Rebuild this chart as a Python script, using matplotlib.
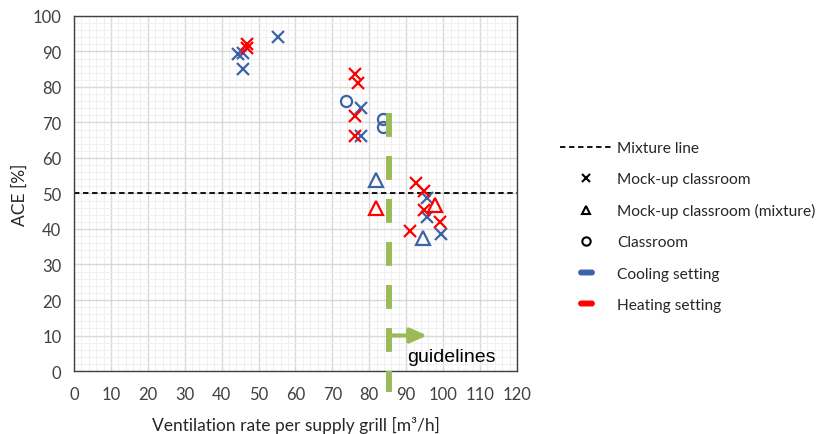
import numpy as np
import matplotlib
matplotlib.use("Agg")
import matplotlib.pyplot as plt
from matplotlib.lines import Line2D
from matplotlib.path import Path
from matplotlib.ticker import MultipleLocator

# data (ventilation rate [m3/h], ACE [%])
cool_mock_x = [44.4, 45.7, 45.9, 55.2, 77.8, 77.8, 95.6, 95.6, 99.4]
cool_mock_y = [89.3, 89.5, 85.1, 94.2, 74.0, 66.3, 48.6, 43.3, 38.6]
heat_mock_x = [46.8, 47.0, 76.2, 76.8, 76.2, 76.2, 92.7, 94.9, 94.7, 99.2, 91.1]
heat_mock_y = [92.1, 91.0, 83.7, 81.1, 71.9, 66.3, 52.9, 50.6, 45.4, 41.9, 39.5]
cool_mix_x = [81.8, 94.5]
cool_mix_y = [53.9, 37.5]
heat_mix_x = [81.8, 97.8]
heat_mix_y = [45.8, 46.8]
cool_class_x = [73.7, 83.7, 83.7]
cool_class_y = [76.1, 71.0, 68.6]

mixture_line = 50
guideline_x = 85.4
guideline_y = [72.7, -6]
arrow_end = 95.7
arrow_y = 10

col_cool = '#3C63A8'
col_heat = '#FF0000'
col_green = '#9BBB59'
font = ['Lato', 'DejaVu Sans']
plt.rcParams['font.family'] = font

fig = plt.figure(figsize=(8.32, 4.35), dpi=100)
ax = fig.add_axes([0.0889, 0.1448, 0.5325, 0.8162])

ax.set_xlim(0, 120)
ax.set_ylim(0, 100)
ax.xaxis.set_major_locator(MultipleLocator(10))
ax.yaxis.set_major_locator(MultipleLocator(10))
ax.xaxis.set_minor_locator(MultipleLocator(2))
ax.yaxis.set_minor_locator(MultipleLocator(2))
ax.grid(which='major', color='#D9D9D9', lw=1.0, zorder=0)
ax.grid(which='minor', color='#EEEEEE', lw=0.6, zorder=0)
ax.set_axisbelow(True)
ax.tick_params(which='both', length=0, labelsize=12, colors='#404040')
ax.tick_params(axis='x', pad=11)
ax.tick_params(axis='y', pad=9)
for s in ax.spines.values():
    s.set_color('#404040')
    s.set_linewidth(1.0)

ax.axhline(mixture_line, color='black', ls=(0, (3, 2)), lw=1.3, zorder=2)

ms = 8
ax.plot(cool_mock_x, cool_mock_y, 'x', color=col_cool, ms=ms, mew=1.6, zorder=3)
ax.plot(heat_mock_x, heat_mock_y, 'x', color=col_heat, ms=ms, mew=1.6, zorder=3)
ax.plot(cool_mix_x, cool_mix_y, '^', mfc='none', mec=col_cool, ms=10, mew=1.6, zorder=3)
ax.plot(heat_mix_x, heat_mix_y, '^', mfc='none', mec=col_heat, ms=10, mew=1.6, zorder=3)
ax.plot(cool_class_x, cool_class_y, 'o', mfc='none', mec=col_cool, ms=8, mew=1.6, zorder=3)

# guideline
ax.plot([guideline_x, guideline_x], guideline_y, color=col_green, lw=4.3,
        ls=(0, (4.0, 3.2)), solid_capstyle='butt', dash_capstyle='butt',
        clip_on=False, zorder=4)
ax.annotate('', xy=(arrow_end, arrow_y), xytext=(guideline_x, arrow_y),
            arrowprops=dict(arrowstyle='-|>,head_length=0.5,head_width=0.22',
                            color=col_green, lw=3, mutation_scale=20,
                            shrinkA=0, shrinkB=0), zorder=4)
ax.text(90.2, 4.2, 'guidelines', fontsize=14, va='center', ha='left',
        family=['Liberation Sans', 'DejaVu Sans'], color='black', zorder=5)

ax.set_xlabel('Ventilation rate per supply grill [m³/h]', fontsize=12.5, color='#262626')
ax.xaxis.set_label_coords(0.5, -0.127)
ax.set_ylabel('ACE [%]', fontsize=12.5, color='#262626')
ax.yaxis.set_label_coords(-0.105, 0.5)

# pill marker for colour entries
t = np.linspace(-np.pi / 2, np.pi / 2, 12)
right = np.column_stack([1.4 + 0.6 * np.cos(t), 0.6 * np.sin(t)])
left = np.column_stack([-1.4 - 0.6 * np.cos(t), -0.6 * np.sin(t)])
pill = Path(np.vstack([right, left, right[:1]]), closed=True)

handles = [
    Line2D([], [], color='black', ls=(0, (3, 2)), lw=1.3),
    Line2D([], [], ls='none', marker='x', color='black', ms=6, mew=1.5),
    Line2D([], [], ls='none', marker='^', mfc='none', mec='black', ms=6, mew=1.5),
    Line2D([], [], ls='none', marker='o', mfc='none', mec='black', ms=6, mew=1.5),
    Line2D([], [], ls='none', marker=pill, color=col_cool, ms=11),
    Line2D([], [], ls='none', marker=pill, color=col_heat, ms=11),
]
labels = ['Mixture line', 'Mock-up classroom', 'Mock-up classroom (mixture)',
          'Classroom', 'Cooling setting', 'Heating setting']
fig.legend(handles, labels, loc='upper left', bbox_to_anchor=(560 / 832, 1 - 142 / 435),
           frameon=False, fontsize=11.2, handlelength=3.3, handletextpad=0.35,
           labelspacing=1.1, borderpad=0, borderaxespad=0, labelcolor='#262626')

fig.savefig('out.png', dpi=100)
